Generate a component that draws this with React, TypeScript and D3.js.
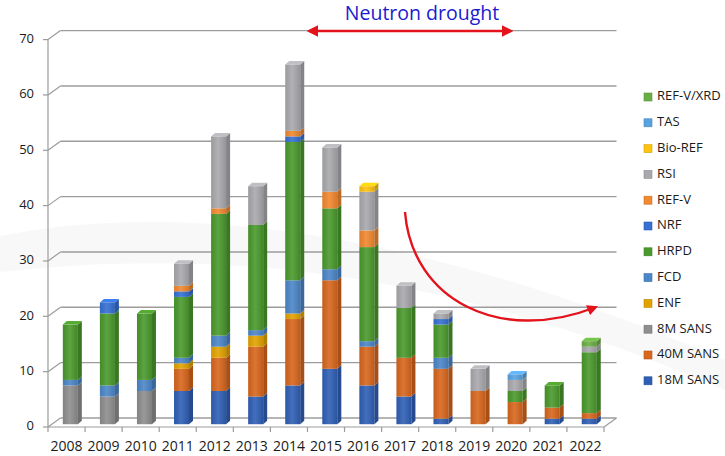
import React from "react";
import * as d3 from "d3";

const years = ["2008","2009","2010","2011","2012","2013","2014","2015","2016","2017","2018","2019","2020","2021","2022"];

// Stack order, bottom to top
const seriesKeys = ["18M SANS","40M SANS","8M SANS","ENF","FCD","HRPD","NRF","REF-V","RSI","Bio-REF","TAS","REF-V/XRD"];

const sans18 = [0,0,0,6,6,5,7,10,7,5,1,0,0,1,1];
const sans40 = [0,0,0,4,6,9,12,16,7,7,9,6,4,2,1];
const sans8 = [7,5,6,0,0,0,0,0,0,0,0,0,0,0,0];
const enf = [0,0,0,1,2,2,1,0,0,0,0,0,0,0,0];
const fcd = [1,2,2,1,2,1,6,2,1,0,2,0,0,0,0];
const hrpd = [10,13,12,11,22,19,25,11,17,9,6,0,2,4,11];
const nrf = [0,2,0,1,0,0,1,0,0,0,1,0,0,0,0];
const refV = [0,0,0,1,1,0,1,3,3,0,0,0,0,0,0];
const rsi = [0,0,0,4,13,7,12,8,7,4,1,4,2,0,1];
const bioRef = [0,0,0,0,0,0,0,0,1,0,0,0,0,0,0];
const tas = [0,0,0,0,0,0,0,0,0,0,0,0,1,0,0];
const refVXrd = [0,0,0,0,0,0,0,0,0,0,0,0,0,0,1];

const seriesValues = [sans18, sans40, sans8, enf, fcd, hrpd, nrf, refV, rsi, bioRef, tas, refVXrd];

const seriesColors = ["#2f5fb5","#d8661d","#8e8e8e","#e2a300","#4b86c8","#4a992c","#3570d2","#f2882f","#a9a9ad","#ffc20e","#58a2e0","#6aae45"];

const yTicks = [0,10,20,30,40,50,60,70];

const W = 725, H = 456;
const FONT = "'Open Sans', 'DejaVu Sans', sans-serif";

export default function App() {
  const x0 = 48, x1 = 604;
  const depthX = 12.5, depthY = -9;
  const x = d3.scaleBand<string>().domain(years).range([x0, x1]).padding(0);
  const y = d3.scaleLinear().domain([0, 70]).range([427, 39.6]);

  const rows = years.map((yr, i) => {
    const r: Record<string, any> = { year: yr };
    seriesKeys.forEach((k, s) => { r[k] = seriesValues[s][i]; });
    return r;
  });
  const stacked = d3.stack<any>().keys(seriesKeys)(rows);

  const barW = 15;
  const offX = 3.8, offY = -2.8; // front plane of the columns
  const sideX = 4, sideY = -3.5; // column depth

  const bars: React.ReactNode[] = [];
  years.forEach((yr, i) => {
    const bx = (x(yr) as number) + x.bandwidth() / 2 - barW / 2 + offX;
    let topIdx = -1;
    stacked.forEach((layer, s) => { if (layer[i][1] - layer[i][0] > 0) topIdx = s; });
    stacked.forEach((layer, s) => {
      const [a, b] = layer[i];
      if (b - a <= 0) return;
      const ya = y(a) + offY, yb = y(b) + offY;
      const c = seriesColors[s];
      const side = d3.color(c)!.darker(0.7).formatHex();
      bars.push(
        <g key={`${yr}-${s}`}>
          <rect x={bx} y={yb} width={barW} height={ya - yb} fill={c} />
          <path d={`M${bx + barW},${ya}L${bx + barW + sideX},${ya + sideY}L${bx + barW + sideX},${yb + sideY}L${bx + barW},${yb}Z`} fill={side} />
          {s === topIdx && (
            <path d={`M${bx},${yb}L${bx + sideX},${yb + sideY}L${bx + barW + sideX},${yb + sideY}L${bx + barW},${yb}Z`} fill={d3.color(c)!.brighter(0.35).formatHex()} />
          )}
        </g>
      );
    });
    const total = stacked[stacked.length - 1][i][1];
    bars.push(
      <rect key={`${yr}-shade`} x={bx} y={y(total) + offY} width={barW} height={y(0) - y(total)} fill="url(#faceShade)" />
    );
  });

  const legendKeys = seriesKeys.map((k, s) => ({ k, c: seriesColors[s] })).reverse();

  return (
    <svg width={W} height={H} style={{ position: "absolute", left: 0, top: 0, background: "#fff" }} fontFamily={FONT}>
      <defs>
        <linearGradient id="faceShade" x1="0" x2="1" y1="0" y2="0">
          <stop offset="0" stopColor="#000" stopOpacity="0.08" />
          <stop offset="0.45" stopColor="#fff" stopOpacity="0.1" />
          <stop offset="1" stopColor="#000" stopOpacity="0.12" />
        </linearGradient>
        <marker id="arrowHead" viewBox="0 0 10 10" refX="8" refY="5" markerWidth="4.5" markerHeight="4.5" orient="auto-start-reverse">
          <path d="M0,0L10,5L0,10Z" fill="#e3121b" />
        </marker>
      </defs>

      {/* faint background swoosh */}
      <path d="M0,236 C180,200 420,230 725,360 L725,390 C430,262 200,250 0,272 Z" fill="#f8f8f8" />

      {/* back wall gridlines and left wall */}
      {yTicks.map((t) => (
        <g key={t}>
          <line x1={x0} y1={y(t)} x2={x0 + depthX} y2={y(t) + depthY} stroke="#9c9c9c" strokeWidth={1.2} />
          <line x1={x0 + depthX} y1={y(t) + depthY} x2={x1 + depthX} y2={y(t) + depthY} stroke="#9c9c9c" strokeWidth={1.4} />
          <line x1={x0 - 5} y1={y(t)} x2={x0} y2={y(t)} stroke="#9c9c9c" strokeWidth={1.2} />
          <text x={34} y={y(t)} textAnchor="end" dominantBaseline="middle" fontSize={13} fill="#1a1a1a">{t}</text>
        </g>
      ))}
      <line x1={x0} y1={y(0)} x2={x0} y2={y(70)} stroke="#9c9c9c" strokeWidth={1.2} />
      <line x1={x0} y1={y(0)} x2={x1} y2={y(0)} stroke="#9c9c9c" strokeWidth={1.2} />
      <line x1={x1} y1={y(0)} x2={x1 + depthX} y2={y(0) + depthY} stroke="#9c9c9c" strokeWidth={1.2} />
      {years.concat(["end"]).map((yr, i) => {
        const tx = x0 + x.bandwidth() * i;
        return <line key={`t${i}`} x1={tx} y1={y(0)} x2={tx} y2={y(0) + 5} stroke="#9c9c9c" strokeWidth={1.2} />;
      })}

      {bars}

      {years.map((yr) => (
        <text key={yr} x={(x(yr) as number) + x.bandwidth() / 2} y={447} textAnchor="middle" dominantBaseline="middle" fontSize={14} fill="#1a1a1a">{yr}</text>
      ))}

      {/* legend */}
      {legendKeys.map((d, i) => {
        const ly = 97 + i * 25.8;
        return (
          <g key={d.k}>
            <rect x={644} y={ly - 4} width={8} height={8} fill={d.c} stroke={d3.color(d.c)!.darker(0.5).formatHex()} strokeWidth={0.6} />
            <text x={657} y={ly} dominantBaseline="middle" fontSize={13} fill="#1a1a1a">{d.k}</text>
          </g>
        );
      })}

      {/* annotations */}
      <text x={422} y={15} textAnchor="middle" dominantBaseline="middle" fontSize={19.5} fill="#1b1bd0">Neutron drought</text>
      <line x1={309} y1={31} x2={511} y2={31} stroke="#e3121b" strokeWidth={2.6} markerStart="url(#arrowHead)" markerEnd="url(#arrowHead)" />
      <path d="M405,212 C412,300 500,345 596,307" fill="none" stroke="#e3121b" strokeWidth={2.4} markerEnd="url(#arrowHead)" />
    </svg>
  );
}
